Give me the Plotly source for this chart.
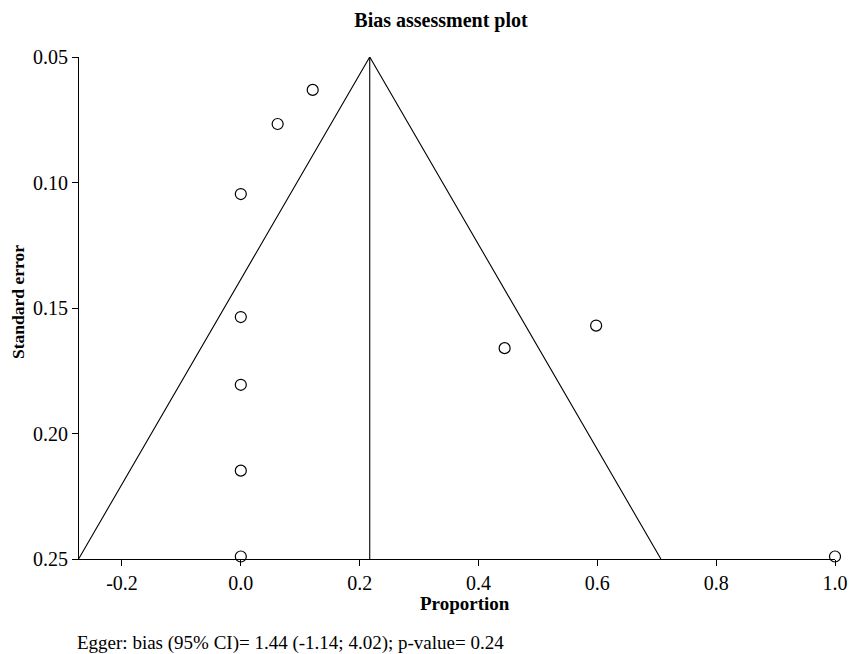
import plotly.graph_objects as go

# Study estimates (proportion) and their standard errors
proportion = [0.121, 0.062, 0.0, 0.0, 0.0, 0.0, 0.0, 0.444, 0.598, 1.0]
std_error = [0.0631, 0.0767, 0.1046, 0.1536, 0.1806, 0.2148, 0.249, 0.166, 0.157, 0.249]

# Pooled estimate and funnel limits
pooled = 0.217
se_top = 0.05
se_bottom = 0.25
funnel_left = -0.273
funnel_right = 0.707

x_ticks = [-0.2, 0.0, 0.2, 0.4, 0.6, 0.8, 1.0]
x_tick_labels = ["-0.2", "0.0", "0.2", "0.4", "0.6", "0.8", "1.0"]
y_ticks = [0.05, 0.10, 0.15, 0.20, 0.25]
y_tick_labels = ["0.05", "0.10", "0.15", "0.20", "0.25"]

FONT = "Liberation Serif"
W, H = 850, 654
L, R, T, B = 79, 15, 57, 95
PW, PH = W - L - R, H - T - B


def px(xp):
    return (xp - L) / PW


def py(yp):
    return (H - B - yp) / PH


fig = go.Figure()

# Funnel
fig.add_trace(go.Scatter(
    x=[funnel_left, pooled, funnel_right],
    y=[se_bottom, se_top, se_bottom],
    mode="lines", line=dict(color="black", width=1.1),
    hoverinfo="skip", showlegend=False, cliponaxis=False))
# Pooled estimate line
fig.add_trace(go.Scatter(
    x=[pooled, pooled], y=[se_top, se_bottom],
    mode="lines", line=dict(color="black", width=1.1),
    hoverinfo="skip", showlegend=False, cliponaxis=False))
# Studies
fig.add_trace(go.Scatter(
    x=proportion, y=std_error, mode="markers",
    marker=dict(symbol="circle-open", size=11, color="black",
                line=dict(color="black", width=1.2)),
    showlegend=False, cliponaxis=False))

fig.update_layout(
    width=W, height=H,
    margin=dict(l=L, r=R, t=T, b=B, autoexpand=False),
    paper_bgcolor="white", plot_bgcolor="white",
    font=dict(family=FONT, color="black", size=20),
    title=dict(text="<b>Bias assessment plot</b>", x=px(441), xref="paper",
               xanchor="center", y=1 - 20 / H, yanchor="middle",
               font=dict(family=FONT, size=20, color="black")),
    xaxis=dict(range=[-0.2723, 1.0], tickvals=x_ticks, ticktext=x_tick_labels,
               showline=True, linecolor="black", linewidth=1.1,
               ticks="outside", ticklen=6, tickcolor="black",
               showgrid=False, zeroline=False, automargin=False,
               tickfont=dict(family=FONT, size=20)),
    yaxis=dict(range=[0.25, 0.05], tickvals=y_ticks, ticktext=y_tick_labels,
               showline=True, linecolor="black", linewidth=1.1,
               ticks="outside", ticklen=6, tickcolor="black",
               showgrid=False, zeroline=False, automargin=False,
               tickfont=dict(family=FONT, size=20)),
    annotations=[
        dict(text="<b>Proportion</b>", xref="paper", yref="paper",
             x=px(465), y=py(603), xanchor="center", yanchor="middle",
             showarrow=False, font=dict(family=FONT, size=19, color="black")),
        dict(text="<b>Standard error</b>", xref="paper", yref="paper",
             x=px(18), y=py(302), xanchor="center", yanchor="middle",
             textangle=-90, showarrow=False,
             font=dict(family=FONT, size=17.5, color="black")),
        dict(text="Egger: bias (95% CI)= 1.44 (-1.14; 4.02); p-value= 0.24",
             xref="paper", yref="paper", x=px(75), y=py(643),
             xanchor="left", yanchor="middle", showarrow=False,
             font=dict(family=FONT, size=19, color="black")),
    ],
)

fig.write_html("out.html")
